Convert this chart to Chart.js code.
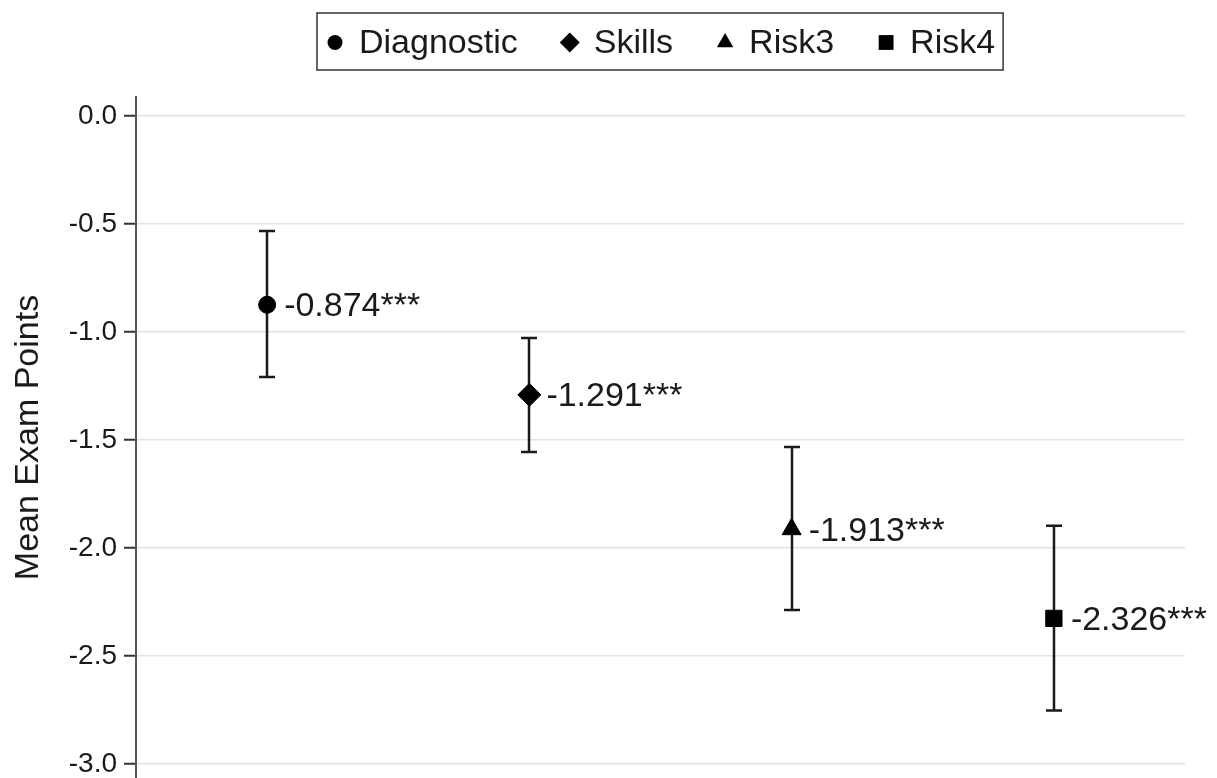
<!DOCTYPE html>
<html>
  <head>
    <meta charset="utf-8">
    <title>Mean Exam Points</title>
    <style>
      body { margin: 0; background: #ffffff; }
      #wrap { width: 1217px; height: 778px; }
    </style>
  </head>
  <body>
    <div id="wrap"><canvas id="canvas" width="1217" height="778"></canvas></div>
    <script src="https://cdn.jsdelivr.net/npm/chart.js@4/dist/chart.umd.min.js"></script>
    <script>
      // data
      var groups = ['Diagnostic', 'Skills', 'Risk3', 'Risk4'];
      var xPos = [1, 2, 3, 4];
      var means = [-0.874, -1.291, -1.913, -2.326];
      var ciLow = [-1.208, -1.556, -2.287, -2.753];
      var ciHigh = [-0.532, -1.028, -1.532, -1.897];
      var stars = ['***', '***', '***', '***'];
      var markers = ['circle', 'rectRot', 'triangle', 'rect'];
      var markerSize = [8.5, 11.5, 11, 11.5];
      var yTicks = [-3.0, -2.5, -2.0, -1.5, -1.0, -0.5, 0.0];

      var FONT = "'Liberation Sans', Arial, Helvetica, sans-serif";
      var INK = '#1a1a1a';

      var datasets = [];
      for (var i = 0; i < groups.length; i++) {
        datasets.push({
          label: groups[i],
          data: [{x: xPos[i], y: means[i]}],
          pointStyle: markers[i],
          pointRadius: markerSize[i],
          pointHoverRadius: markerSize[i],
          pointBackgroundColor: '#000',
          pointBorderColor: '#000',
          pointBorderWidth: 1,
          showLine: false
        });
      }

      // whiskers with caps, under the markers
      var errorBars = {
        id: 'errorBars',
        beforeDatasetsDraw: function(chart) {
          var ctx = chart.ctx, xs = chart.scales.x, ys = chart.scales.y;
          ctx.save();
          ctx.strokeStyle = INK;
          ctx.lineWidth = 2.5;
          for (var i = 0; i < groups.length; i++) {
            var px = Math.round(xs.getPixelForValue(xPos[i]));
            var top = ys.getPixelForValue(ciHigh[i]);
            var bot = ys.getPixelForValue(ciLow[i]);
            ctx.beginPath();
            ctx.moveTo(px, top); ctx.lineTo(px, bot);
            ctx.moveTo(px - 8, top); ctx.lineTo(px + 8, top);
            ctx.moveTo(px - 8, bot); ctx.lineTo(px + 8, bot);
            ctx.stroke();
          }
          ctx.restore();
        },
        afterDatasetsDraw: function(chart) {
          var ctx = chart.ctx, xs = chart.scales.x, ys = chart.scales.y;
          ctx.save();
          ctx.fillStyle = INK;
          ctx.font = '34px ' + FONT;
          ctx.textAlign = 'left';
          ctx.textBaseline = 'middle';
          for (var i = 0; i < groups.length; i++) {
            var px = xs.getPixelForValue(xPos[i]);
            var py = ys.getPixelForValue(means[i]);
            ctx.fillText(means[i].toFixed(3) + stars[i], px + 17, py + 2);
          }
          ctx.restore();
        }
      };

      // boxed legend on one row above the plot
      var boxLegend = {
        id: 'boxLegend',
        afterDraw: function(chart) {
          var ctx = chart.ctx, area = chart.chartArea;
          ctx.save();
          ctx.font = '34px ' + FONT;
          var widths = groups.map(function(g) { return ctx.measureText(g).width; });
          var padL = 18, gapMark = 24, gapItem = 52, padR = 8;
          var total = padL + padR;
          for (var i = 0; i < groups.length; i++) {
            total += gapMark + widths[i] + (i < groups.length - 1 ? gapItem : 0);
          }
          var left = Math.round((area.left + area.right) / 2 - total / 2);
          var top = 13, h = 57, cy = top + h / 2 + 1;
          ctx.strokeStyle = '#333';
          ctx.lineWidth = 1.5;
          ctx.strokeRect(left, top, total, h);
          var x = left + padL;
          ctx.fillStyle = '#000';
          ctx.textAlign = 'left';
          ctx.textBaseline = 'middle';
          var legSize = [7.5, 10, 9.5, 10.5];
          for (var j = 0; j < groups.length; j++) {
            Chart.helpers.drawPoint(ctx, {pointStyle: markers[j], radius: legSize[j], rotation: 0, borderWidth: 0}, x, cy);
            ctx.fillStyle = INK;
            ctx.fillText(groups[j], x + gapMark, cy + 1);
            ctx.fillStyle = '#000';
            x += gapMark + widths[j] + gapItem;
          }
          ctx.restore();
        }
      };

      var ctx = document.getElementById('canvas').getContext('2d');
      var myChart = new Chart(ctx, {
        type: 'scatter',
        data: {datasets: datasets},
        options: {
          responsive: false,
          devicePixelRatio: 1,
          animation: false,
          events: [],
          layout: {autoPadding: false, padding: {top: 97, right: 32, bottom: 0, left: 0}},
          scales: {
            x: {
              type: 'linear',
              min: 0.5,
              max: 4.5,
              display: false
            },
            y: {
              type: 'linear',
              min: -3.065,
              max: 0.088,
              afterBuildTicks: function(scale) {
                scale.ticks = yTicks.map(function(v) { return {value: v}; });
              },
              afterFit: function(scale) {
                scale.width = 136;
                scale.paddingTop = 0;
                scale.paddingBottom = 0;
              },
              ticks: {
                color: INK,
                padding: 7,
                font: {family: FONT, size: 28},
                callback: function(v) { return Number(v).toFixed(1); }
              },
              grid: {
                color: '#e3e3e3',
                lineWidth: 1.5,
                tickColor: '#333',
                tickLength: 12,
                tickWidth: 2
              },
              border: {display: true, color: '#555', width: 2},
              title: {
                display: true,
                text: 'Mean Exam Points',
                color: INK,
                font: {family: FONT, size: 34},
                padding: {top: 8, bottom: 0}
              }
            }
          },
          plugins: {
            legend: {display: false},
            tooltip: {enabled: false}
          }
        },
        plugins: [errorBars, boxLegend]
      });
    </script>
  </body>
</html>
